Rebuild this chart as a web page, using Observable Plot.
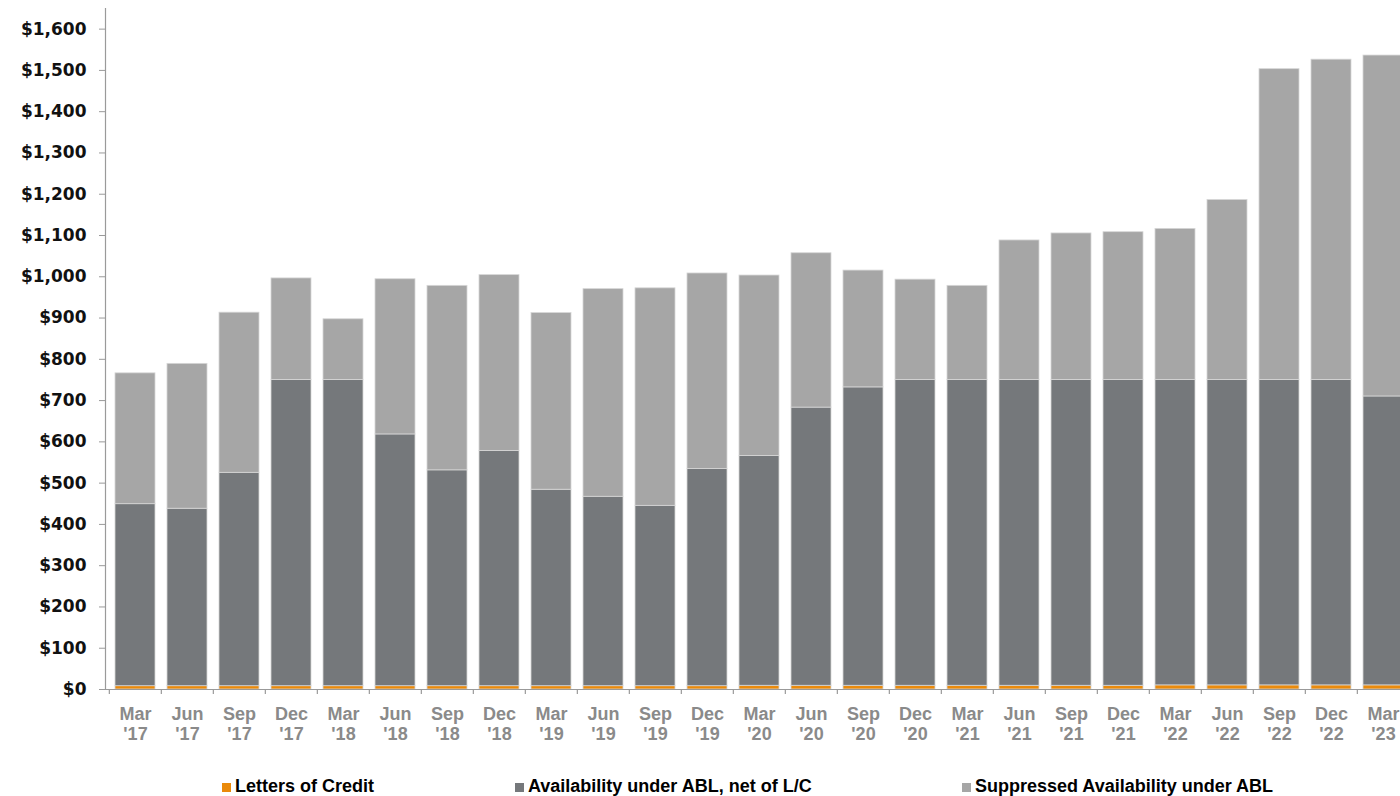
<!DOCTYPE html>
<html>
<head>
<meta charset="utf-8">
<script src="https://cdn.jsdelivr.net/npm/d3@7"></script>
<script src="https://cdn.jsdelivr.net/npm/@observablehq/plot@0.6"></script>
<style>
  html, body { margin: 0; padding: 0; background: #fff; overflow: hidden; width: 1400px; height: 796px; }
  #chart { width: 1400px; height: 750px; overflow: hidden; }
  #chart svg { display: block; max-width: none !important; }
  .legend { position: relative; width: 1400px; height: 46px; font-family: "Liberation Sans", Arial, sans-serif; font-weight: bold; font-size: 18px; color: #000; }
  .item { position: absolute; top: 26px; line-height: 20px; white-space: nowrap; }
  .sw { display: inline-block; width: 9px; height: 9px; margin-right: 4px; vertical-align: baseline; }
</style>
</head>
<body>
<div id="chart"></div>
<div class="legend" id="legend"></div>
<script>
const quarters = ["Mar '17","Jun '17","Sep '17","Dec '17","Mar '18","Jun '18","Sep '18","Dec '18",
  "Mar '19","Jun '19","Sep '19","Dec '19","Mar '20","Jun '20","Sep '20","Dec '20",
  "Mar '21","Jun '21","Sep '21","Dec '21","Mar '22","Jun '22","Sep '22","Dec '22","Mar '23"];

const seriesNames = ["Letters of Credit", "Availability under ABL, net of L/C", "Suppressed Availability under ABL"];
const seriesColors = ["#EA8A0B", "#75787B", "#A6A6A6"];

const lettersOfCredit = [8,8,8,8,8,8,8,8,8,8,8,8,9,9,9,9,9,9,9,9,10,10,10,10,10];
const availability    = [441,430,517,742,742,610,523,570,476,459,437,526,557,674,723,741,741,741,741,741,740,740,740,740,700];
const suppressed      = [317,351,388,246,147,376,447,426,428,503,527,474,437,374,283,243,228,338,355,358,366,436,753,776,826];

const yTicks = [0,100,200,300,400,500,600,700,800,900,1000,1100,1200,1300,1400,1500,1600];

const rows = [];
quarters.forEach((q, i) => {
  rows.push({quarter: q, series: seriesNames[0], value: lettersOfCredit[i]});
  rows.push({quarter: q, series: seriesNames[1], value: availability[i]});
  rows.push({quarter: q, series: seriesNames[2], value: suppressed[i]});
});

const W = 1413, ML = 105;
const step = (W - ML) / quarters.length;

const chart = Plot.plot({
  width: W,
  height: 750,
  marginLeft: ML,
  marginRight: 0,
  marginTop: 8,
  marginBottom: 61,
  style: { background: "white", overflow: "visible", maxWidth: "none" },
  x: { domain: quarters, paddingInner: 0.235, paddingOuter: 0.1175, label: null, axis: null },
  y: { domain: [0, 1650], label: null, axis: null },
  color: { domain: seriesNames, range: seriesColors },
  marks: [
    Plot.barY(rows, { x: "quarter", y: "value", fill: "series", order: seriesNames, stroke: "#d6d6d6", strokeWidth: 0.8 }),
    Plot.frame({ anchor: "left", stroke: "#9a9a9a", strokeWidth: 1.2 }),
    Plot.ruleY([0], { stroke: "#9a9a9a", strokeWidth: 1.2 }),
    Plot.ruleX(quarters, { x: d => d, y1: 0, y2: 0, insetBottom: -5, dx: -step / 2, stroke: "#9a9a9a", strokeWidth: 1.2 }),
    Plot.axisY({ ticks: yTicks, tickSize: 6, tickPadding: 13, tickFormat: d3.format("$,"),
      stroke: "#9a9a9a", fill: "#111", fontSize: 17, fontWeight: "bold", fontFamily: "DejaVu Sans", label: null }),
    Plot.axisX({ tickSize: 0, tickPadding: 16, tickFormat: d => d.replace(" ", "\n"), lineHeight: 1.11,
      fill: "#8a8a8a", fontSize: 18, fontWeight: "bold", fontFamily: "Liberation Sans", label: null })
  ]
});
document.getElementById("chart").appendChild(chart);

const legendLeft = [222, 515, 962];
const legend = document.getElementById("legend");
seriesNames.forEach((name, i) => {
  const it = document.createElement("div");
  it.className = "item";
  it.style.left = legendLeft[i] + "px";
  const sw = document.createElement("span");
  sw.className = "sw";
  sw.style.background = seriesColors[i];
  it.appendChild(sw);
  it.appendChild(document.createTextNode(name));
  legend.appendChild(it);
});
</script>
</body>
</html>
